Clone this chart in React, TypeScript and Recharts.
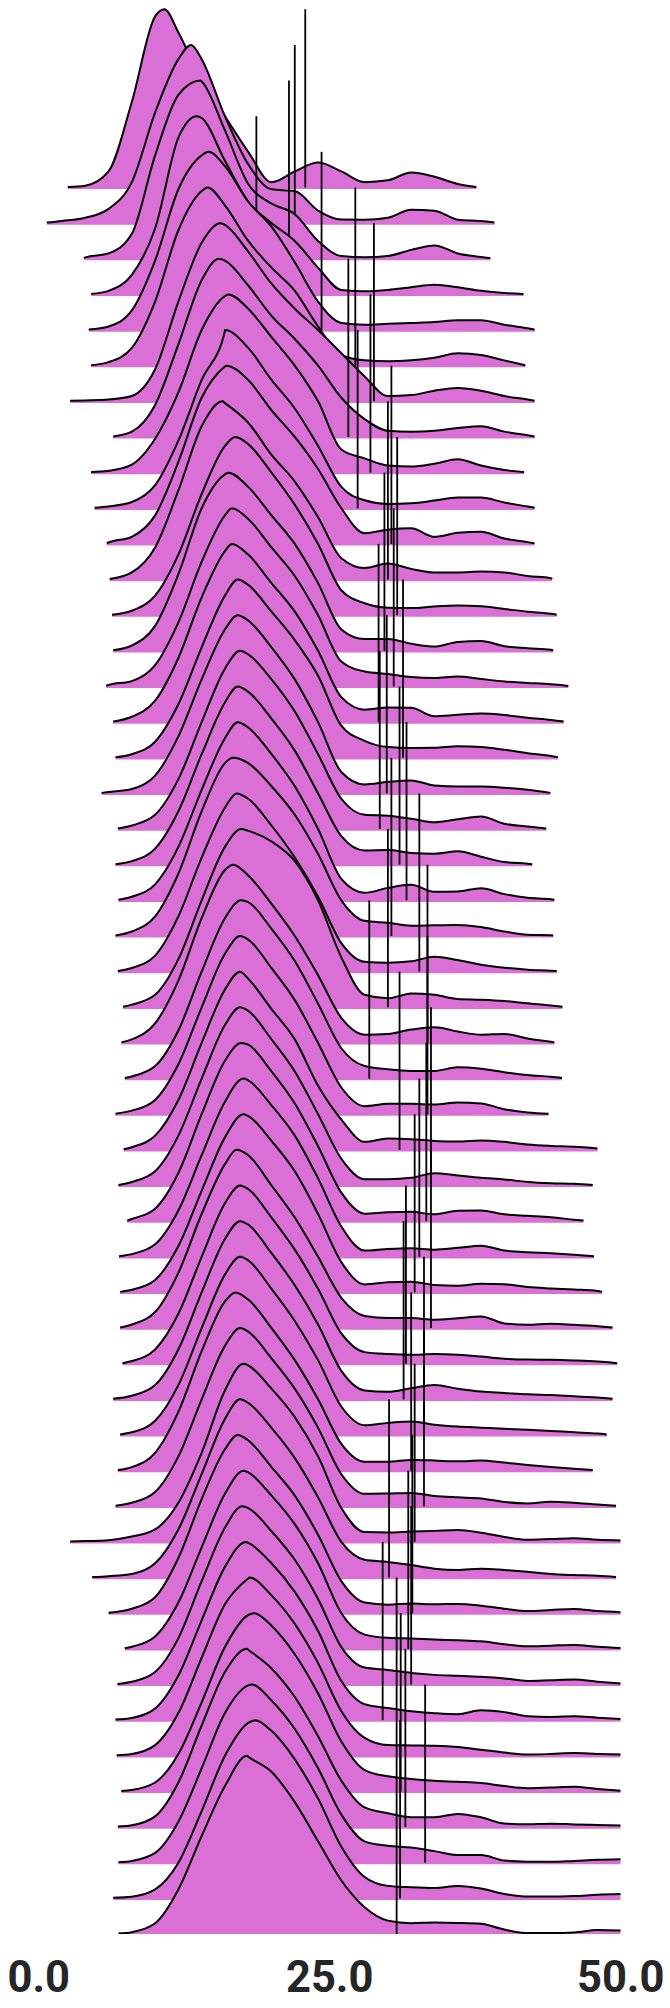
import React from 'react';
import { ComposedChart, Area, Line, XAxis, YAxis } from 'recharts';

const _ = null;

// x grid (value axis) on which each ridge's relative density (0-100, 100 = ridge peak) is read
const GRID = [0, 2, 4, 6, 8, 10, 12, 14, 16, 18, 20, 22, 24, 26, 28, 30, 32, 34, 36, 38, 40, 42, 44, 46, 48, 50];

const START_X = [2.5, 0.7, 3.9, 4.5, 4.3, 4.5, 2.7, 6.4, 4.5, 4.8, 5.85, 6.1, 6.3, 6.4, 5.8, 6.4, 6.6, 5.4, 6.8, 6.6,
  6.85, 6.6, 6.8, 7.25, 7.1, 7.4, 6.6, 7.3, 6.85, 7.6, 6.9, 7.0, 7.0, 7.2, 6.4, 7.0, 6.8, 6.6, 2.7, 4.6,
  6.0, 7.4, 6.77, 6.6, 6.7, 7.1, 6.8, 6.85, 6.4, 6.85];
const PEAK_X = [10.8, 13.1, 13.9, 13.6, 14.6, 14.5, 15.6, 15.5, 16.3, 16.0, 16.1, 15.8, 16.9, 16.3, 16.6, 16.6, 17.1, 17.1, 17.3, 17.1,
  17.1, 16.7, 17.0, 17.4, 16.7, 17.4, 17.3, 17.3, 17.3, 17.4, 17.6, 17.6, 17.0, 17.3, 17.3, 17.3, 16.9, 17.3, 17.6, 17.3,
  17.1, 17.6, 17.5, 17.8, 18.1, 18.5, 17.9, 18.3, 18.6, 17.9];
const END_X = [37.6, 39.15, 38.8, 41.65, 42.6, 41.8, 42.6, 42.6, 41.7, 42.6, 42.6, 44.1, 44.5, 44.2, 45.5, 45.1, 44.6, 43.96, 43.6, 42.4,
  44.3, 44.2, 44.5, 45.0, 44.3, 44.95, 43.8, 48.0, 47.6, 46.8, 47.7, 48.4, 49.3, 49.7, 49.3, 48.8, 47.6, 49.6, 50, 49.6,
  50, 50, 50, 50, 50, 50, 50, 50, 50, 50];
const LINE_X = [22.9, 22.0, 21.5, 18.7, 24.3, 27.2, 28.8, 26.6, 28.5, 27.4, 30.3, 30.0, 30.8, 29.7, 30.5, 29.2, 31.3, 29.9, 29.3, 31.0,
  31.6, 30.3, 32.7, 30.0, 33.4, 28.4, 33.4, 31.0, 33.7, 33.3, 32.7, 32.3, 33.7, 31.55, 31.35, 33.1, 32.0, 33.1, 32.3, 30.1,
  32.1, 31.75, 32.0, 29.55, 30.75, 31.1, 31.5, 33.2, 31.05, 30.75];

const r00 = [_, _, 1, 9, 48, 96, 87, 60, 40, 20, 3, 9, 14, 9, 3, 4, 8.4, 6, 2, _, _, _, _, _, _, _];
const r01 = [_, 1.2, 3, 8, 23, 62, 92, 92, 60, 33, 19, 18, 7, 2, 1.9, 3, 7.5, 7, 1.9, 1.2, _, _, _, _, _, _];
const r02 = [_, _, 0.8, 3, 14, 58, 92, 99.5, 72, 42, 31, 25, 10, 1.5, 0.8, 1.5, 5, 7.5, 3, 1, _, _, _, _, _, _];
const r03 = [_, _, _, 2, 11, 37, 88, 99, 75, 52, 40, 30, 15, 2.5, 1.8, 2.5, 4, 5.4, 4, 2, 0.8, _, _, _, _, _];
const r04 = [_, _, _, 2, 11, 39, 79, 98, 92, 72, 58, 38, 16, 4, 3, 3.5, 4, 4.5, 5.5, 5.5, 3, 1, _, _, _, _];
const r05 = [_, _, _, 2, 10, 36, 76, 98, 90, 70, 55, 42, 22, 6, 3, 2.5, 3, 4.5, 7, 6, 3, _, _, _, _, _];
const r06 = [_, _, 0.5, 1, 3, 18, 56, 89, 99, 84, 66, 52, 40, 27, 14, 3, 3.5, 6, 7.5, 6, 3, 1, _, _, _, _];
const r07 = [_, _, _, _, 3, 18, 52, 88, 99, 85, 68, 55, 40, 22, 10, 3.5, 3, 3.5, 5, 6, 3, 1, _, _, _, _];
const r08 = [_, _, _, 1, 4.5, 19, 45, 80, 99, 92, 76, 60, 40, 13, 8, 4, 3.4, 5, 7.5, 4, 1.5, _, _, _, _, _];
const r09 = [_, _, _, 1, 3.5, 13, 38, 72, 99.5, 90, 72, 56, 35, 12, 4.5, 2.4, 2.8, 4.3, 6, 6, 3.2, 1, _, _, _, _];
const r10 = [_, _, _, 0.8, 4, 16, 46, 82, 99.5, 92, 75, 60, 42, 20, 6, 8, 8.8, 4, 6.2, 6.8, 3, 1, _, _, _, _];
const r11 = [_, _, _, _, 4, 18, 50, 86, 99, 88, 70, 55, 35, 12, 6.5, 9, 6, 4, 4, 4.5, 4, 2, 0.8, _, _, _];
const r12 = [_, _, _, _, 2.5, 11, 34, 68, 95, 96, 80, 62, 40, 14, 6.7, 4.2, 4, 4.9, 5.4, 5, 3.5, 2, 0.8, _, _, _];
const r13 = [_, _, _, _, 3, 14, 43, 80, 99, 92, 76, 60, 38, 12, 6.6, 6.6, 4, 2.4, 5, 5.5, 2.6, 1.5, 0.6, _, _, _];
const r14 = [_, _, _, 0.8, 3, 12, 36, 70, 96, 94, 78, 62, 40, 14, 8.4, 7, 5.3, 4.8, 5.6, 4.2, 2.8, 2, 1.2, _, _, _];
const r15 = [_, _, _, _, 3, 12, 36, 70, 96, 94, 78, 62, 40, 14, 7, 8.2, 8, 3.3, 4.1, 4.8, 4, 2.4, 1.2, _, _, _];
const r16 = [_, _, _, _, 2, 9, 30, 62, 91, 97, 82, 66, 46, 18, 9.5, 6, 5.5, 5.6, 6.4, 6, 4.5, 2.6, 1, _, _, _];
const r17 = [_, _, _, 0.8, 2.5, 10, 32, 64, 92, 97, 82, 64, 40, 12, 5, 6.5, 7.3, 4.5, 3.9, 3.9, 3.2, 2, _, _, _, _];
const r18 = [_, _, _, _, 2, 8, 28, 60, 90, 98, 84, 66, 42, 17, 8, 7.5, 5.8, 3.8, 5.5, 7, 3, 1.5, _, _, _, _];
const r19 = [_, _, _, _, 2, 9, 30, 62, 91, 97, 82, 64, 40, 16, 8, 8.2, 6.6, 6.2, 7.5, 4.5, 1.5, 0.6, _, _, _, _];
const r20 = [_, _, _, _, 2, 9, 30, 62, 91, 97, 82, 64, 40, 12, 4.2, 7, 8.7, 4.8, 5, 6.8, 3.5, 1.4, 0.6, _, _, _];
const r21 = [_, _, _, _, 2.5, 11, 35, 70, 97, 97, 84, 68, 46, 20, 8.5, 7.4, 5.8, 6, 6.2, 5, 2.5, 0.7, 0.4, _, _, _];
const r22 = [_, _, _, _, 2, 9, 31, 64, 92, 97, 82, 64, 42, 16, 5.5, 5, 5.8, 8.4, 6.5, 3.9, 2.2, 1.1, 0.5, _, _, _];
const r23 = [_, _, _, _, 1.5, 7, 27, 60, 90, 99, 93, 82, 60, 28, 7, 5, 7.8, 7, 4.6, 4.2, 3.5, 2.2, 1, _, _, _];
const r24 = [_, _, _, _, 2, 11, 35, 70, 97, 94, 78, 60, 38, 14, 4.6, 5, 7.5, 8.8, 6.4, 4.6, 5, 2.5, 0.6, _, _, _];
const r25 = [_, _, _, _, 1.2, 7, 27, 60, 90, 99, 84, 66, 42, 17, 7, 5.2, 4.3, 4.3, 6.3, 5.5, 3.6, 2, 1, _, _, _];
const r26 = [_, _, _, _, 2, 8, 28, 60, 90, 98, 82, 64, 40, 15, 4.5, 5.8, 5.8, 5.4, 6.5, 6, 2.8, 1, _, _, _, _];
const r27 = [_, _, _, _, 1.5, 8, 28, 60, 90, 96, 79, 62, 36, 17, 4.5, 6.3, 6, 5, 4.7, 5.3, 4.5, 3, 2.2, 1.7, 0.8, _];
const r28 = [_, _, _, _, 2, 8, 28, 60, 90, 98, 82, 64, 40, 15, 3.5, 3.5, 4.3, 6.9, 5.6, 4.3, 3.4, 2, 1.3, 1, _, _];
const r29 = [_, _, _, _, 1.2, 7, 27, 60, 90, 99, 84, 66, 42, 16, 4.2, 5, 5.2, 3.8, 5.8, 6, 3.8, 3, 2.2, 0.8, _, _];
const r30 = [_, _, _, _, 1.5, 7, 26, 57, 87, 99, 85, 68, 44, 17, 3.5, 4.4, 4.8, 4, 5, 6.2, 3.5, 2.5, 2, 1.2, _, _];
const r31 = [_, _, _, _, 1.5, 7, 26, 57, 87, 99, 85, 68, 44, 17, 4.5, 5.7, 6, 4.2, 3.8, 4.8, 4.6, 3, 2.2, 1.6, 0.8, _];
const r32 = [_, _, _, _, 2, 9, 31, 64, 92, 97, 80, 62, 40, 17, 6.8, 5.6, 5.6, 4.7, 5.5, 6.5, 2.6, 1.8, 2.4, 1.8, 1, _];
const r33 = [_, _, _, _, 1.5, 8, 28, 60, 90, 98, 82, 64, 42, 17, 6.5, 5.4, 5, 5.4, 5, 4, 2.8, 2.3, 2.2, 1.8, 1.2, _];
const r34 = [_, _, _, 0.6, 2, 8, 28, 60, 90, 98, 82, 64, 42, 16, 5, 4.2, 6.2, 8, 6, 4.4, 3.6, 2.8, 2.4, 1.8, 1, _];
const r35 = [_, _, _, _, 1.5, 8, 28, 60, 90, 98, 82, 64, 42, 16, 5.5, 6.8, 7.6, 5.8, 4.7, 4.1, 3.5, 3, 2.3, 1.5, 0.8, _];
const r36 = [_, _, _, _, 2, 10, 33, 67, 95, 96, 80, 62, 40, 15, 5, 5, 6, 5.7, 5.2, 5.7, 4.5, 3.2, 2, 1, _, _];
const r37 = [_, _, _, _, 2, 8, 28, 60, 90, 98, 83, 66, 44, 18, 7, 7.2, 7.5, 5.8, 5, 4.4, 2.4, 1.6, 2.6, 2, 1, _];
const r38 = [_, _, 0.5, 1, 3, 7, 22, 50, 85, 99, 86, 70, 48, 19, 5.5, 5.3, 5.8, 6.2, 6.7, 5.2, 2.8, 1.2, 1.6, 2.1, 1.2, 0.8];
const r39 = [_, _, _, 0.8, 2, 8, 27, 58, 89, 98, 84, 67, 45, 20, 10, 8.8, 7, 5, 4.3, 5, 4.3, 3.3, 2, 1.4, 1, _];
const r40 = [_, _, _, 0.8, 2.5, 9, 31, 64, 92, 97, 82, 66, 44, 18, 6, 4.8, 5.4, 5, 5.2, 4.2, 2.5, 1.2, 1.8, 2.4, 1.2, 0.6];
const r41 = [_, _, _, _, 1.2, 7, 26, 57, 87, 99, 86, 70, 48, 20, 8, 6.2, 5.8, 5.2, 4.8, 4.2, 2.6, 1.4, 1.8, 2.2, 1.2, 0.5];
const r42 = [_, _, _, _, 1.5, 7, 26, 58, 88, 99, 86, 70, 48, 21, 9.5, 8.2, 6.5, 5.4, 4.9, 4.3, 3.4, 2, 2.4, 2.8, 1.6, 0.5];
const r43 = [_, _, _, _, 1.2, 6.5, 25, 56, 86, 99.5, 88, 72, 50, 22, 9, 6.8, 5, 3.9, 3.3, 5.5, 4.5, 2.2, 1.8, 2.2, 1.4, 0.7];
const r44 = [_, _, _, _, 1, 6, 24, 55, 85, 99.5, 90, 74, 52, 25, 10, 6, 5.8, 5.6, 4.9, 3.4, 1.8, 0.7, 1, 1.5, 1, 0.7];
const r45 = [_, _, _, _, 0.8, 5, 21, 50, 81, 99, 93, 77, 55, 28, 12, 8.5, 7, 6, 5.4, 4.7, 3, 1.8, 2.2, 2.6, 1.4, 0.4];
const r46 = [_, _, _, _, 1, 6, 25, 57, 87, 99.5, 89, 73, 51, 26, 11, 7.8, 5.5, 5.5, 7.4, 5.5, 2, 1.6, 1.9, 1.5, 1.2, 0.9];
const r47 = [_, _, _, _, 1, 5.5, 23, 53, 84, 99.5, 91, 75, 53, 27, 12, 9.5, 8.5, 6.5, 4.3, 4.3, 1.2, 0.6, 0.5, 1, 1.6, 1.9];
const r48 = [_, _, _, 0.5, 0.9, 5, 20, 49, 80, 98.5, 94, 78, 56, 29, 12, 7, 6.2, 5.8, 6.9, 5.5, 2.5, 1, 1, 1.3, 2, 2.4];
const r49 = [_, _, _, _, 1, 6, 25, 55, 83, 99.5, 91, 74, 52, 30, 15, 7.5, 6.1, 6.4, 6.2, 5.7, 2.5, 0.5, 0.5, 0.8, 2.2, 1.9];

const PROFILES = [r00, r01, r02, r03, r04, r05, r06, r07, r08, r09, r10, r11, r12, r13, r14, r15, r16, r17, r18, r19,
  r20, r21, r22, r23, r24, r25, r26, r27, r28, r29, r30, r31, r32, r33, r34, r35, r36, r37, r38, r39,
  r40, r41, r42, r43, r44, r45, r46, r47, r48, r49];

const X_TICKS = [0, 25, 50];

const ROWS = PROFILES.length;
const PEAK_ROWS = 5; // ridge peak height, in row spacings
const PCT = PEAK_ROWS / 100;
const EDGE = 0.3; // relative height at the two ends of each ridge
const STRIP = 0.045; // pink strip under each ridge baseline

const W = 670;
const H = 2008;
const MARGIN = { top: 0, right: 49.3, bottom: 44, left: 38.7 };
const X_AXIS_H = 30;
const PLOT_BOTTOM = H - MARGIN.bottom - X_AXIS_H;

const baseOf = (i: number) => ROWS - 1 - i;

function ridgeData(i: number) {
  const base = baseOf(i);
  const s = START_X[i];
  const e = END_X[i];
  const prof = PROFILES[i];
  const pts: { x: number; y: number }[] = [{ x: s, y: base + EDGE * PCT }];
  let endOnGrid = false;
  GRID.forEach((g, k) => {
    const h = prof[k];
    if (h != null && g > s && g <= e) {
      pts.push({ x: g, y: base + h * PCT });
      if (g === e) endOnGrid = true;
    }
  });
  pts.push({ x: PEAK_X[i], y: base + 100 * PCT });
  if (!endOnGrid) pts.push({ x: e, y: base + EDGE * PCT });
  pts.sort((a, b) => a.x - b.x);
  return pts;
}

function lineData(i: number) {
  const base = baseOf(i);
  return [
    { x: LINE_X[i], y: base },
    { x: LINE_X[i], y: base + PEAK_ROWS },
  ];
}

const renderTick = (props: any) => {
  const { x, payload } = props;
  return (
    <text
      x={x}
      y={PLOT_BOTTOM + 58}
      textAnchor="middle"
      fontFamily="Roboto, 'Liberation Sans', sans-serif"
      fontWeight={700}
      fontSize={43.5}
      fill="#262626"
    >
      {Number(payload.value).toFixed(1)}
    </text>
  );
};

export default function App() {
  return (
    <div style={{ position: 'absolute', left: 0, top: 0, width: W, height: H, background: '#ffffff' }}>
      <ComposedChart width={W} height={H} margin={MARGIN}>
        <XAxis
          type="number"
          dataKey="x"
          domain={[0, 50]}
          ticks={X_TICKS}
          interval={0}
          allowDataOverflow
          axisLine={false}
          tickLine={false}
          tickSize={0}
          tickMargin={0}
          height={X_AXIS_H}
          tick={renderTick}
        />
        <YAxis type="number" domain={[0, 54.26]} allowDataOverflow hide width={0} />
        {PROFILES.map((p, i) => (
          <React.Fragment key={i}>
            <Area
              data={ridgeData(i)}
              dataKey="y"
              type="monotoneX"
              baseValue={baseOf(i) - STRIP}
              stroke="#000000"
              strokeWidth={2}
              fill="#DA70D6"
              fillOpacity={1}
              dot={false}
              activeDot={false}
              isAnimationActive={false}
              zIndex={1000 + 2 * i}
            />
            <Line
              data={lineData(i)}
              dataKey="y"
              type="linear"
              stroke="#000000"
              strokeWidth={1.8}
              dot={false}
              activeDot={false}
              isAnimationActive={false}
              zIndex={1001 + 2 * i}
            />
          </React.Fragment>
        ))}
      </ComposedChart>
    </div>
  );
}
